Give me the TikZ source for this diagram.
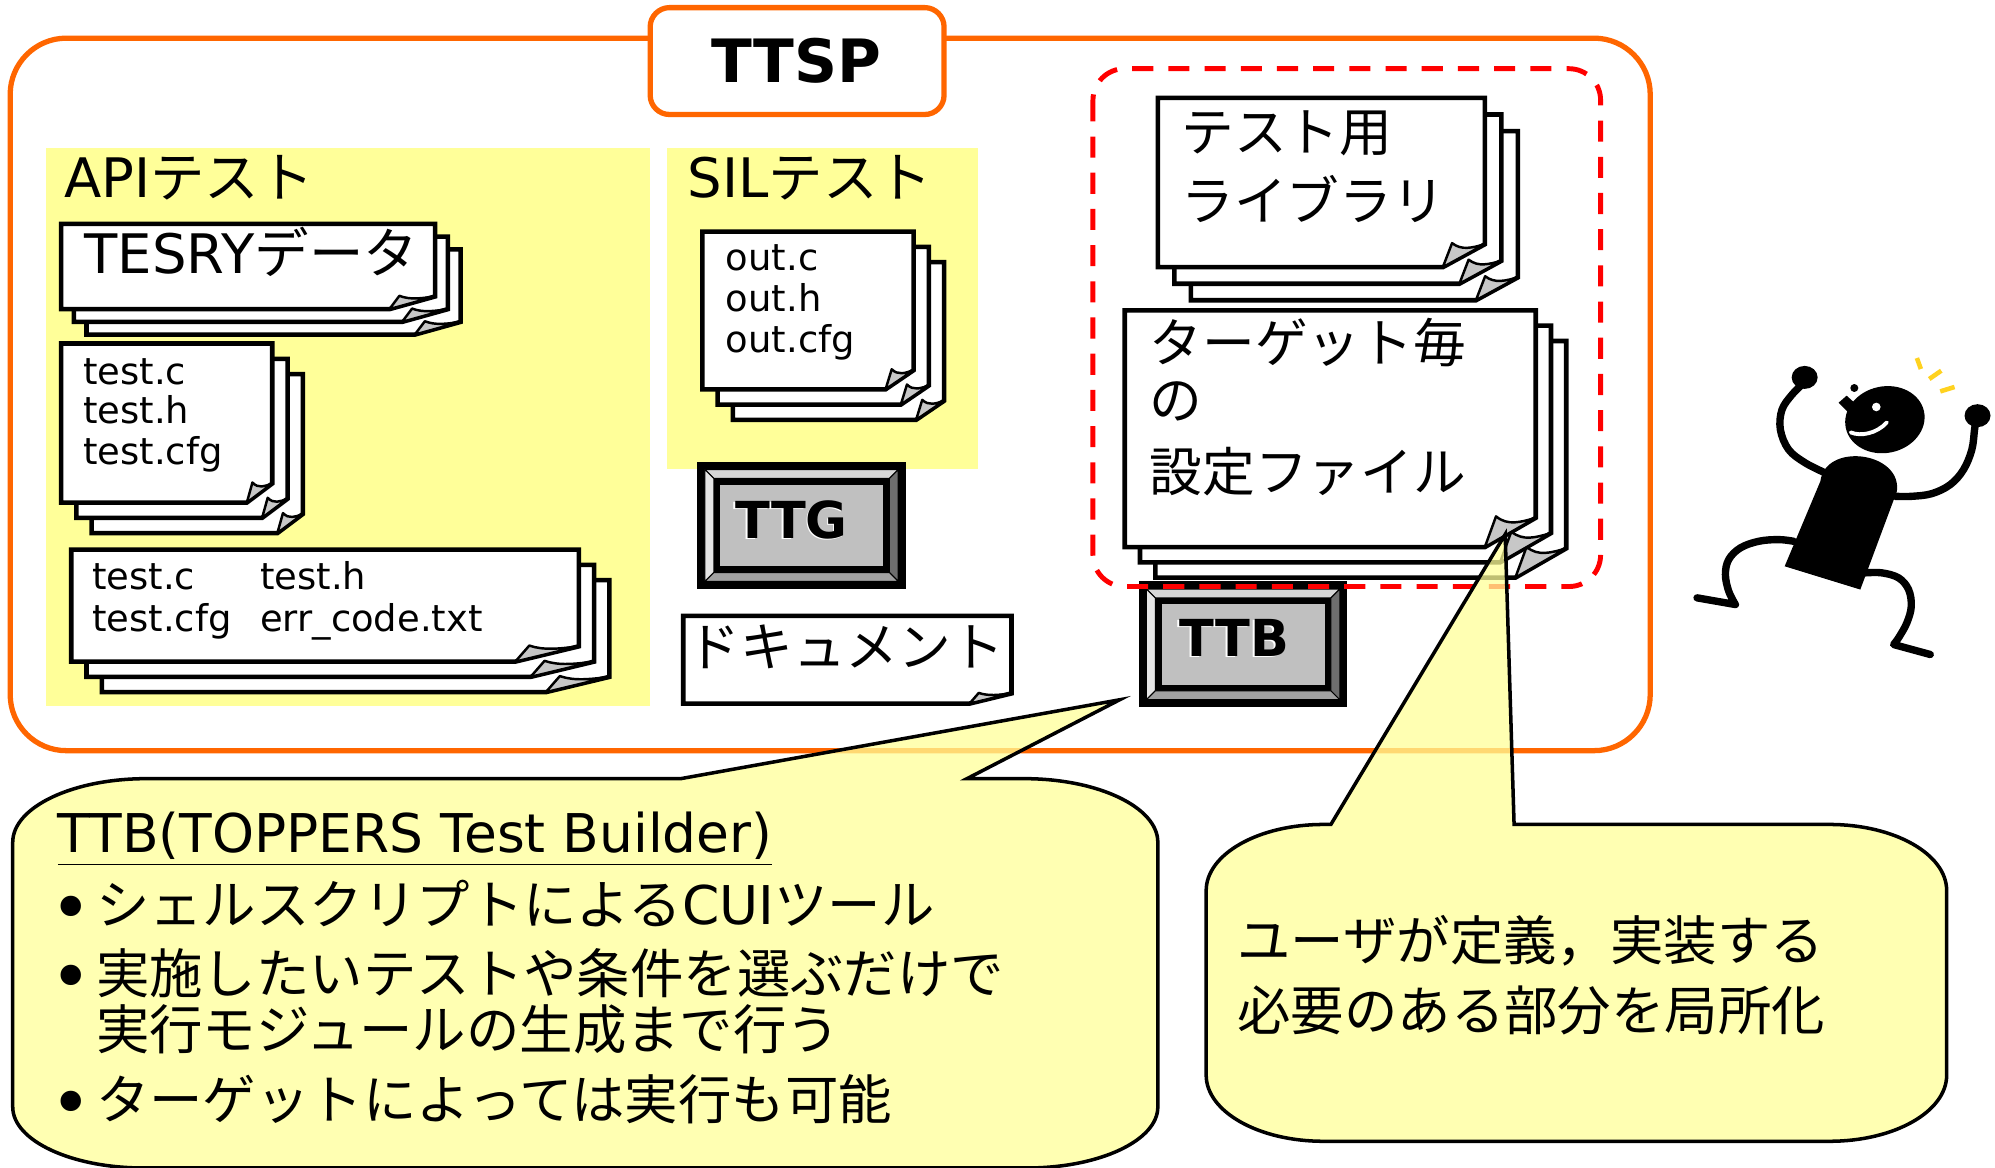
\documentclass[tikz,border=0pt]{standalone}
\usepackage{fontspec}
\setmainfont{DejaVu Sans}
\newfontfamily\jp{Noto Sans CJK JP}
\definecolor{ttspOrange}{HTML}{FF6600}
\definecolor{areaYellow}{HTML}{FFFF99}
\definecolor{noteYellow}{HTML}{FFFF99}
\definecolor{faceGray}{HTML}{C0C0C0}
\definecolor{sparkYellow}{HTML}{FFD21F}

% one sheet with a folded lower-right corner
\newcommand{\docsheet}[6]{%
  \filldraw[sheet] (#1,#2) -- (#3,#2) -- (#3,{#4-#6}) -- ({#3-#5},#4) -- (#1,#4) -- cycle;
  \filldraw[flap] ({#3-#5},#4) -- ({#3-0.78*#5},{#4-1.05*#6})
     .. controls ({#3-0.55*#5},{#4-0.72*#6}) and ({#3-0.3*#5},{#4-0.85*#6}) .. (#3,{#4-#6}) -- cycle;
}
% a stack of three sheets: x1 y1 x2 y2 foldw foldh offset
\newcommand{\docstack}[7]{%
  \foreach \k in {2,1,0}{\docsheet{#1+\k*#7}{#2+\k*#7}{#3+\k*#7}{#4+\k*#7}{#5}{#6}}%
}
% bevelled push button
\newcommand{\tbutton}[4]{%
  \fill[black] (#1,#2) rectangle (#3,#4);
  \filldraw[bevel, fill=black!16] ({#1+6},{#2+6}) -- ({#3-6},{#2+6}) -- ({#3-13},{#2+13}) -- ({#1+13},{#2+13}) -- cycle;
  \filldraw[bevel, fill=black!10] ({#1+6},{#2+6}) -- ({#1+13},{#2+13}) -- ({#1+13},{#4-13}) -- ({#1+6},{#4-6}) -- cycle;
  \filldraw[bevel, fill=black!57] ({#3-6},{#2+6}) -- ({#3-6},{#4-6}) -- ({#3-13},{#4-13}) -- ({#3-13},{#2+13}) -- cycle;
  \filldraw[bevel, fill=black!37] ({#1+6},{#4-6}) -- ({#1+13},{#4-13}) -- ({#3-13},{#4-13}) -- ({#3-6},{#4-6}) -- cycle;
  \fill[faceGray] ({#1+18},{#2+18}) rectangle ({#3-18},{#4-18});
}

\begin{document}
\begin{tikzpicture}[x=0.012723cm, y=-0.012723cm,
  sheet/.style={fill=white, draw=black, line width=1.3pt, line join=miter},
  flap/.style={fill=black!22, draw=black, line width=0.7pt, line join=round},
  bevel/.style={draw=black, line width=0.3pt},
  txt/.style={inner sep=0pt, anchor=base west},
  big/.style={font=\fontsize{15}{18}\selectfont},
  label/.style={font=\fontsize{15.5}{18}\selectfont},
  notetext/.style={font=\fontsize{15.2}{18}\selectfont},
  bulletmark/.style={inner sep=0pt, anchor=base west, font=\fontsize{20}{20}\selectfont},
  small/.style={font=\fontsize{10.5}{12}\selectfont},
  btntext/.style={inner sep=0pt, font=\fontsize{14.5}{17}\selectfont\bfseries},
  note/.style={fill=noteYellow, fill opacity=0.75, draw=black, line width=1pt, line join=miter},
  limb/.style={line width=2.1pt, line cap=round, line join=round}]

\useasboundingbox (0,0) rectangle (1568,918);
\clip (0,0) rectangle (1568,918);
\fill[white] (0,0) rectangle (1568,918);

% outer frame
\draw[ttspOrange, line width=1.5pt, rounded corners=16pt] (8,30) rectangle (1297,590);
\filldraw[fill=white, draw=ttspOrange, line width=1.5pt, rounded corners=5.5pt] (511,6) rectangle (742,90);
\node[inner sep=0pt, font=\fontsize{17}{20}\selectfont\bfseries] (ttsp) at (626,48) {TTSP};

% test areas
\fill[areaYellow] (36,116) rectangle (511,555);
\fill[areaYellow] (524,116) rectangle (769,369);
\node[txt, label] (apilabel) at (50,155) {API{\jp テスト}};
\node[txt, label] (sillabel) at (540,155) {SIL{\jp テスト}};

% API test files
\docstack{48}{176}{342}{243}{36}{10}{10}
\node[txt, label] (tesry) at (66,215) {TESRY{\jp データ}};

\docstack{48}{270}{214}{395}{20}{15}{12}
\node[txt, small] (ta1) at (65,302) {test.c};
\node[txt, small] (ta2) at (65,333) {test.h};
\node[txt, small] (ta3) at (65,365) {test.cfg};

\docstack{56}{432}{455}{520}{50}{12}{12}
\node[txt, small] (tb1) at (72,463) {test.c};
\node[txt, small] (tb2) at (204,463) {test.h};
\node[txt, small] (tb3) at (72,496) {test.cfg};
\node[txt, small] (tb4) at (204,496) {err\_code.txt};

% SIL test files
\docstack{552}{182}{718}{306}{22}{15}{12}
\node[txt, small] (o1) at (570,213) {out.c};
\node[txt, small] (o2) at (570,245) {out.h};
\node[txt, small] (o3) at (570,277) {out.cfg};

% TTG
\tbutton{548}{363}{712}{463}
\node[btntext, white] (ttgshadow) at (620.8,409.7) {TTG};
\node[btntext] (ttg) at (622,408.5) {TTG};

% document
\docsheet{537}{484}{795}{553}{33}{8}
\node[txt, big] (doc) at (540,524) {\jp ドキュメント};

% user-defined parts
\docstack{910}{77}{1167}{210}{33}{18}{13}
\node[txt, big] (lib1) at (928,119) {\jp テスト用};
\node[txt, big] (lib2) at (928,173) {\jp ライブラリ};

\docstack{884}{244}{1207}{430}{40}{23}{12}
\node[txt, big] (cfg1) at (903,285) {\jp ターゲット毎};
\node[txt, big] (cfg2) at (903,330) {\jp の};
\node[txt, big] (cfg3) at (903,386) {\jp 設定ファイル};

% TTB
\tbutton{895}{457}{1059}{556}
\node[btntext, white] (ttbshadow) at (968.8,502.2) {TTB};
\node[btntext] (ttb) at (970,501) {TTB};

% user area
\draw[red, line width=1.4pt, dash pattern=on 6pt off 4.3pt, rounded corners=9pt] (859,54) rectangle (1258,461);

% TTB note
\filldraw[note] (10,662) arc[start angle=180, end angle=270, x radius=105, y radius=50]
  -- (535,612) -- (880,550) -- (760,612) -- (805,612)
  arc[start angle=270, end angle=360, x radius=105, y radius=50]
  -- (910,870) arc[start angle=0, end angle=90, x radius=103, y radius=48]
  -- (113,918) arc[start angle=90, end angle=180, x radius=103, y radius=48] -- cycle;
\node[txt, notetext] (n1t) at (45,670) {\underline{TTB(TOPPERS Test Builder)}};
\node[bulletmark] (n1b1) at (39,733) {•};
\node[txt, notetext] (n1l1) at (75,727) {{\jp シェルスクリプトによる}CUI{\jp ツール}};
\node[bulletmark] (n1b2) at (39,787) {•};
\node[txt, notetext] (n1l2) at (75,781) {\vtop{\baselineskip=15.9pt
  \hbox{\jp 実施したいテストや条件を選ぶだけで}\hbox{\jp 実行モジュールの生成まで行う}}};
\node[bulletmark] (n1b3) at (39,886) {•};
\node[txt, notetext] (n1l4) at (75,880) {\jp ターゲットによっては実行も可能};

% user note
\filldraw[note] (948,700) arc[start angle=180, end angle=270, x radius=92, y radius=52]
  -- (1046,648) -- (1183,420) -- (1190,648) -- (1438,648)
  arc[start angle=270, end angle=360, x radius=92, y radius=52]
  -- (1530,845) arc[start angle=0, end angle=90, x radius=92, y radius=52]
  -- (1040,897) arc[start angle=90, end angle=180, x radius=92, y radius=52] -- cycle;
\node[txt, notetext] (n2l1) at (972,755) {\jp ユーザが定義，実装する};
\node[txt, notetext] (n2l2) at (972,810) {\jp 必要のある部分を局所化};

% happy user
\begin{scope}[x=0.01cm, y=-0.01cm]
  \fill (1786,566.7) -- (1821.7,481.7) .. controls (1826.9,442.1) and (1903.5,452.1) .. (1898.3,491.7) -- (1861.7,590) -- cycle;
  \draw[limb] plot[smooth, tension=0.6] coordinates {(1826.7,473.3) (1806.7,463.3) (1790,450) (1781.7,430) (1783.3,410) (1793.3,395) (1803.3,385)};
  \draw[limb] plot[smooth, tension=0.6] coordinates {(1896.7,496.7) (1913.3,496.7) (1933.3,494) (1951.7,485) (1965,470) (1973.3,450) (1976,430) (1977.7,418.3)};
  \draw[limb] plot[smooth, tension=0.6] coordinates {(1795,541.7) (1780,540) (1760,541.7) (1741.7,548.3) (1730,560) (1726.7,575) (1730,591.7) (1736.7,605)} -- (1698.3,598.3);
  \draw[limb] plot[smooth, tension=0.6] coordinates {(1866.7,573.3) (1883.3,573.3) (1900,578.3) (1910,590) (1912.7,606.7) (1908.3,623.3) (1900,638.3) (1895,645)} -- (1931.7,655);
  \fill (1806,377.7) ellipse [x radius=13, y radius=11.5];
  \fill (1979,416) ellipse [x radius=13, y radius=11.5];
  \fill[rotate around={12:(1886.3,420)}] (1886.3,420) ellipse [x radius=40, y radius=33.3];
  \fill (1840,403) -- (1848,396) -- (1858,405) -- (1850,413) -- cycle;
  \fill (1855.7,388.3) circle [radius=4];
  \fill[white] (1877.7,407.3) circle [radius=4.3];
  \draw[white, line width=1.1pt, line cap=round] (1852,432.7) .. controls (1862,437) and (1878,434) .. (1888.3,422.7);
  \draw[sparkYellow, line width=1.3pt] (1918.3,358.3) -- (1922.3,369.3);
  \draw[sparkYellow, line width=1.3pt] (1930.7,379.3) -- (1942.7,371);
  \draw[sparkYellow, line width=1.3pt] (1941.7,391.7) -- (1956,387.3);
\end{scope}
\end{tikzpicture}
\end{document}
